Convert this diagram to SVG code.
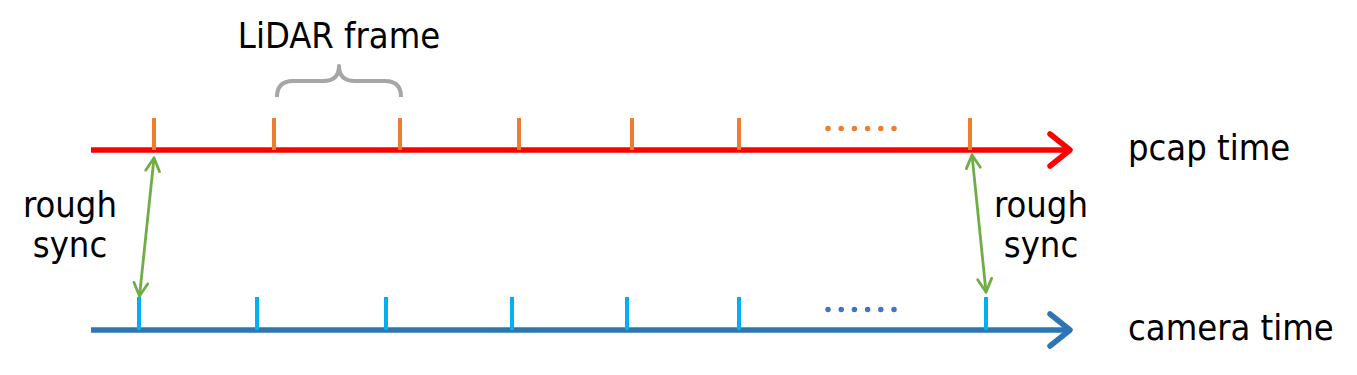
<svg xmlns="http://www.w3.org/2000/svg" width="1357" height="375" viewBox="0 0 1357 375">
<style>
text{font-family:"DejaVu Sans Condensed","DejaVu Sans",sans-serif;font-size:36px;fill:#000}
.axis{fill:none;stroke-width:5.5;stroke-linecap:butt}
.head{fill:none;stroke-width:5.5;stroke-linecap:round;stroke-linejoin:round}
.tickO{stroke:#ED7D31;stroke-width:4}
.tickB{stroke:#00B0F0;stroke-width:4}
.sync{fill:none;stroke:#70AD47;stroke-width:2.8;stroke-linecap:round;stroke-linejoin:round}
</style>
<defs>
<marker id="ah" viewBox="0 0 24 24" refX="21" refY="12" markerWidth="24" markerHeight="24" markerUnits="userSpaceOnUse" orient="auto-start-reverse">
<path d="M8,5 L21,12 L8,19" fill="none" stroke="#70AD47" stroke-width="2.8" stroke-linecap="round" stroke-linejoin="round"/>
</marker>
</defs>
<g id="pcap-axis">
<path class="axis" stroke="#FF0000" d="M91,150 H1068"/>
<path class="head" stroke="#FF0000" d="M1050,134 L1070,150 L1050,166"/>
<g class="tickO">
<line x1="154" y1="118" x2="154" y2="150"/>
<line x1="274" y1="118" x2="274" y2="150"/>
<line x1="400" y1="118" x2="400" y2="150"/>
<line x1="519" y1="118" x2="519" y2="150"/>
<line x1="632" y1="118" x2="632" y2="150"/>
<line x1="739" y1="118" x2="739" y2="150"/>
<line x1="970" y1="118" x2="970" y2="150"/>
</g>
<line x1="828" y1="128.5" x2="895" y2="128.5" stroke="#ED7D31" stroke-width="5.5" stroke-linecap="round" stroke-dasharray="0 13.2"/>
<text x="1128" y="160">pcap time</text>
</g>
<g id="camera-axis">
<path class="axis" stroke="#2E75B6" d="M91,330 H1068"/>
<path class="head" stroke="#2E75B6" d="M1050,314 L1070,330 L1050,346"/>
<g class="tickB">
<line x1="139" y1="297" x2="139" y2="330"/>
<line x1="257" y1="297" x2="257" y2="330"/>
<line x1="386" y1="297" x2="386" y2="330"/>
<line x1="512" y1="297" x2="512" y2="330"/>
<line x1="627" y1="297" x2="627" y2="330"/>
<line x1="739" y1="297" x2="739" y2="330"/>
<line x1="986" y1="297" x2="986" y2="330"/>
</g>
<line x1="828" y1="309.5" x2="895" y2="309.5" stroke="#4472C4" stroke-width="5.5" stroke-linecap="round" stroke-dasharray="0 13.2"/>
<text x="1128" y="340">camera time</text>
</g>
<g id="lidar-frame">
<path d="M277,97 Q277,81 293,81 L323,81 Q339,81 339,66 Q339,81 355,81 L385,81 Q401,81 401,97" fill="none" stroke="#A6A6A6" stroke-width="4" stroke-linejoin="round"/>
<text x="339" y="48" text-anchor="middle">LiDAR frame</text>
</g>
<g id="label-left">
<text x="70" y="217" text-anchor="middle">rough</text>
<text x="70" y="257" text-anchor="middle">sync</text>
</g>
<g id="label-right">
<text x="1041" y="217" text-anchor="middle">rough</text>
<text x="1041" y="257" text-anchor="middle">sync</text>
</g>
<g id="connectors">
<line class="sync" x1="154" y1="158" x2="139.5" y2="296" marker-start="url(#ah)" marker-end="url(#ah)"/>
<line class="sync" x1="972" y1="155" x2="986" y2="292" marker-start="url(#ah)" marker-end="url(#ah)"/>
</g>
</svg>
